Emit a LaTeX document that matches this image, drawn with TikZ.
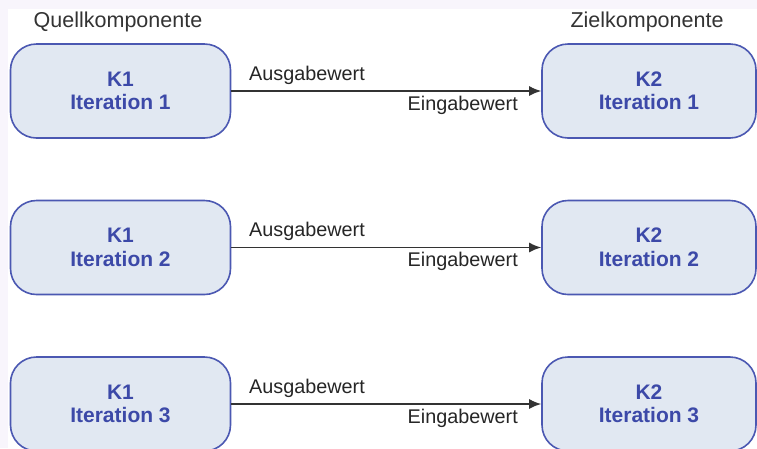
\documentclass[tikz,border=0pt]{standalone}
\usepackage{fontspec}
\setmainfont{Liberation Sans}
\usetikzlibrary{arrows.meta}
\definecolor{bgl}{HTML}{F8F5FC}
\definecolor{boxfill}{HTML}{E1E8F2}
\definecolor{boxdraw}{HTML}{4B58B2}
\definecolor{boxtext}{HTML}{3C49A8}
\definecolor{hdtext}{HTML}{333333}
\begin{document}
\begin{tikzpicture}[x=1pt,y=-1pt,
  comp/.style={draw=boxdraw, line width=1.6pt, fill=boxfill, rounded corners=26pt,
    minimum height=94pt, inner sep=0pt, align=center, text=boxtext,
    font=\fontsize{21}{23.5}\selectfont\bfseries},
  hd/.style={text=hdtext, font=\fontsize{21.5}{24}\selectfont, inner sep=0pt},
  lab/.style={text=black!85, font=\fontsize{19.8}{22}\selectfont, inner sep=0pt},
  conn/.style={draw=black!80, line width=1.5pt, -{Latex[length=12pt,width=10pt]}}]
\useasboundingbox (0,0) rectangle (757,448);
\fill[bgl] (0,0) rectangle (757,448);
\fill[white] (8,9) rectangle (757,448);
\node[hd] (hq) at (118,22) {Quellkomponente};
\node[hd] (hz) at (647,22) {Zielkomponente};
\foreach \i/\y in {1/91,2/247.5,3/404}{
  \node[comp, minimum width=220pt] (a\i) at (120.5,\y) {K1\\Iteration \i};
  \node[comp, minimum width=214pt] (b\i) at (649,\y) {K2\\Iteration \i};
  \draw[conn] (a\i.east) -- (b\i.west);
  \node[lab, anchor=west] (o\i) at (249,\y-16) {Ausgabewert};
  \node[lab, anchor=east] (e\i) at (518,\y+14) {Eingabewert};
}
\end{tikzpicture}
\end{document}
